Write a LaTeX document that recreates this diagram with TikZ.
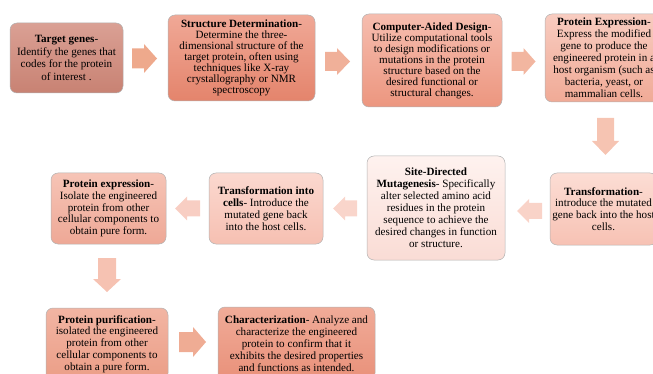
\documentclass[tikz,border=0pt]{standalone}
\usepackage{fontspec}
\setmainfont{Liberation Serif}

\tikzset{
  stepbox/.style={draw=black!30, line width=0.5pt, rounded corners=7pt,
    align=center, inner sep=1pt, font=\fontsize{11.1}{11.8}\selectfont,
    shading=axis, shading angle=0},
  % block arrow: length / head length / shaft width / head width, pointing along +x
  pics/blockarrow/.style args={#1/#2/#3/#4}{code={
    \path[fill] (-#1/2,-#3/2) -- (#1/2-#2,-#3/2) -- (#1/2-#2,-#4/2) -- (#1/2,0)
      -- (#1/2-#2,#4/2) -- (#1/2-#2,#3/2) -- (-#1/2,#3/2) -- cycle;
  }},
}

\begin{document}
\begin{tikzpicture}[x=1pt, y=-1pt]
\useasboundingbox (0,0) rectangle (653,374);

% first row
\node[stepbox, minimum width=113pt, minimum height=70pt,
  top color={rgb,255:red,218;green,160;blue,148}, bottom color={rgb,255:red,200;green,130;blue,115},
  font=\fontsize{11.1}{12.6}\selectfont] (target) at (66.5,58)
  {\textbf{Target genes}-\\Identify the genes that\\codes for the protein\\of interest .};
\node[stepbox, minimum width=147pt, minimum height=86pt,
  top color={rgb,255:red,240;green,168;blue,150}, bottom color={rgb,255:red,228;green,132;blue,108},
  font=\fontsize{11.1}{10.9}\selectfont] (struct) at (241.5,58)
  {\textbf{Structure Determination}-\\Determine the three-\\dimensional structure of the\\target protein, often using\\techniques like X-ray\\crystallography or NMR\\spectroscopy};
\node[stepbox, minimum width=140pt, minimum height=93pt,
  top color={rgb,255:red,246;green,189;blue,175}, bottom color={rgb,255:red,236;green,150;blue,127},
  font=\fontsize{11.1}{11}\selectfont] (cad) at (432,60.5)
  {\textbf{Computer-Aided Design}-\\Utilize computational tools\\to design modifications or\\mutations in the protein\\structure based on the\\desired functional or\\structural changes.};
\node[stepbox, minimum width=118pt, minimum height=88pt,
  top color={rgb,255:red,248;green,204;blue,192}, bottom color={rgb,255:red,240;green,170;blue,150},
  font=\fontsize{11.1}{12}\selectfont] (express) at (604,58)
  {\textbf{Protein Expression}-\\Express the modified\\gene to produce the\\engineered protein in a\\host organism (such as\\bacteria, yeast, or\\mammalian cells.};

% second row
\node[stepbox, minimum width=107pt, minimum height=72pt,
  top color={rgb,255:red,252;green,221;blue,212}, bottom color={rgb,255:red,247;green,194;blue,180}] (transf) at (603.5,209)
  {\textbf{Transformation}-\\introduce the mutated\\gene back into the host\\cells.};
\node[stepbox, minimum width=138pt, minimum height=104pt,
  top color={rgb,255:red,254;green,242;blue,239}, bottom color={rgb,255:red,250;green,220;blue,213},
  font=\fontsize{11.1}{12}\selectfont] (sdm) at (436,208)
  {\textbf{Site-Directed}\\\textbf{Mutagenesis}- Specifically\\alter selected amino acid\\residues in the protein\\sequence to achieve the\\desired changes in function\\or structure.};
\node[stepbox, minimum width=114pt, minimum height=71pt,
  top color={rgb,255:red,251;green,216;blue,207}, bottom color={rgb,255:red,246;green,192;blue,178},
  font=\fontsize{11.1}{12}\selectfont] (tic) at (266,208.5)
  {\textbf{Transformation into}\\\textbf{cells}- Introduce the\\mutated gene back\\into the host cells.};
\node[stepbox, minimum width=115pt, minimum height=71pt,
  top color={rgb,255:red,246;green,196;blue,182}, bottom color={rgb,255:red,238;green,168;blue,150}] (isolate) at (108.5,208.5)
  {\textbf{Protein expression}-\\Isolate the engineered\\protein from other\\cellular components to\\obtain pure form.};

% third row
\node[stepbox, minimum width=122pt, minimum height=72pt,
  top color={rgb,255:red,242;green,181;blue,163}, bottom color={rgb,255:red,235;green,158;blue,135}] (purify) at (107,344)
  {\textbf{Protein purification}-\\isolated the engineered\\protein from other\\cellular components to\\obtain a pure form.};
\node[stepbox, minimum width=157pt, minimum height=73pt,
  top color={rgb,255:red,240;green,171;blue,152}, bottom color={rgb,255:red,233;green,145;blue,122},
  font=\fontsize{11.1}{12}\selectfont] (charac) at (296.5,343.5)
  {\textbf{Characterization}- Analyze and\\characterize the engineered\\protein to confirm that it\\exhibits the desired properties\\and functions as intended.};

% block arrows between the steps
\pic[fill={rgb,255:red,238;green,169;blue,140}] (a1) at (144.5,58.5) {blockarrow={25/13/20/29}};
\pic[fill={rgb,255:red,240;green,176;blue,153}] (a2) at (337.5,61.5) {blockarrow={25/13/19/27}};
\pic[fill={rgb,255:red,242;green,182;blue,160}] (a3) at (523.5,61.5) {blockarrow={24/12/19/27}};
\pic[rotate=-90, fill={rgb,255:red,246;green,196;blue,178}] (d1) at (605.5,136.5) {blockarrow={37/14/17/27}};
\pic[rotate=180, fill={rgb,255:red,249;green,211;blue,200}] (l1) at (529.5,211) {blockarrow={25/12/16/24}};
\pic[rotate=180, fill={rgb,255:red,249;green,213;blue,203}] (l2) at (345,208.5) {blockarrow={24/12/16/24}};
\pic[rotate=180, fill={rgb,255:red,248;green,206;blue,195}] (l3) at (187.5,208.5) {blockarrow={25/12/16/24}};
\pic[rotate=-90, fill={rgb,255:red,246;green,194;blue,178}] (d2) at (107,275) {blockarrow={34/13/18/28}};
\pic[fill={rgb,255:red,239;green,172;blue,148}] (r4) at (192.5,342) {blockarrow={27/13/20/30}};
\end{tikzpicture}
\end{document}
